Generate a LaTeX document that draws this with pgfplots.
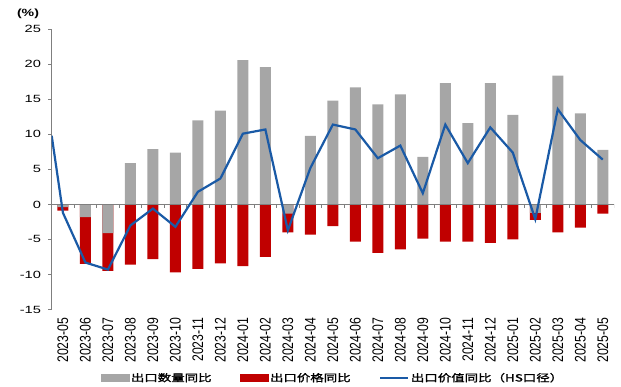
\documentclass[border=0pt]{standalone}
\usepackage{fontspec}
\setmainfont{Liberation Sans}
\newfontfamily\cjk[FakeBold=1.2]{Noto Sans CJK SC}
\usepackage{pgfplots}
\usepackage{pgfplotstable}
\pgfplotsset{compat=1.18}
\definecolor{qgray}{HTML}{A6A6A6}
\definecolor{pred}{HTML}{C00000}
\definecolor{vblue}{HTML}{1A5AA6}
\definecolor{axgray}{HTML}{7F7F7F}
\newcommand{\lgt}[1]{\scalebox{1.35}[1]{\cjk\fontsize{10}{12}\selectfont #1}}
\newcommand{\xl}[1]{\scalebox{1}[1.25]{#1}}

% x: month index; q: export quantity yoy (grey); p: lower end of red bar (price yoy, stacked under grey when both negative)
\pgfplotstableread{
x q p
0 -0.4 -0.9
1 -1.8 -8.5
2 -4.1 -9.5
3 5.9 -8.6
4 7.9 -7.8
5 7.4 -9.7
6 12.0 -9.2
7 13.4 -8.4
8 20.6 -8.8
9 19.6 -7.5
10 -1.3 -4.0
11 9.8 -4.3
12 14.8 -3.1
13 16.7 -5.3
14 14.3 -6.9
15 15.7 -6.4
16 6.8 -4.9
17 17.3 -5.3
18 11.6 -5.3
19 17.3 -5.5
20 12.8 -5.0
21 -1.2 -2.2
22 18.4 -4.0
23 13.0 -3.3
24 7.8 -1.3
}\bars

\pgfplotstableread{
x v
-0.5 9.8
0 -1.2
1 -8.3
2 -9.3
3 -3.0
4 -0.6
5 -3.2
6 1.8
7 3.7
8 10.1
9 10.7
10 -3.7
11 5.2
12 11.4
13 10.7
14 6.6
15 8.4
16 1.6
17 11.4
18 5.9
19 11.0
20 7.4
21 -2.1
22 13.6
23 9.2
24 6.4
}\valueline

\begin{document}
\begin{tikzpicture}
\useasboundingbox (-51.7bp,-77.5bp) rectangle (569.3bp,309.5bp);
\begin{axis}[
  scale only axis,
  width=562.3bp, height=280.2bp,
  at={(0,0)}, anchor=south west,
  xmin=-0.5, xmax=24.5,
  ymin=-15, ymax=25,
  ytick={-15,-10,...,25},
  xtick={0,...,24},
  xticklabels={\xl{2023-05},\xl{2023-06},\xl{2023-07},\xl{2023-08},\xl{2023-09},\xl{2023-10},\xl{2023-11},\xl{2023-12},\xl{2024-01},\xl{2024-02},\xl{2024-03},\xl{2024-04},\xl{2024-05},\xl{2024-06},\xl{2024-07},\xl{2024-08},\xl{2024-09},\xl{2024-10},\xl{2024-11},\xl{2024-12},\xl{2025-01},\xl{2025-02},\xl{2025-03},\xl{2025-04},\xl{2025-05}},
  axis x line*=bottom,
  axis y line*=left,
  x axis line style={draw=none},
  y axis line style={draw=axgray, line width=0.9bp},
  major x tick style={draw=none},
  ytick style={draw=axgray, line width=0.9bp},
  ytick align=outside,
  major tick length=3.5bp,
  /pgf/number format/assume math mode=true,
  yticklabel={\scalebox{1.4}[1]{\pgfmathprintnumber{\tick}}},
  yticklabel style={font=\fontsize{10.5}{12}\selectfont, inner sep=1bp, xshift=-6bp},
  xticklabel style={font=\fontsize{12.3}{13}\selectfont, rotate=90, anchor=east, inner sep=1bp},
  xticklabel shift=7bp,
  legend columns=3,
  legend style={draw=none, fill=none, at={(0.5,-0.2445)}, anchor=center,
    /tikz/every even column/.append style={column sep=27bp},
    nodes={inner sep=1.5bp}},
]
\addplot[ybar, bar width=11bp, bar shift=0pt, fill=pred, draw=none, forget plot] table[x=x, y=p] {\bars};
\addplot[ybar, bar width=11bp, bar shift=0pt, fill=qgray, draw=none, forget plot] table[x=x, y=q] {\bars};
\draw[axgray, line width=0.9bp] (axis cs:-0.5,0) -- (axis cs:24.5,0);
\pgfplotsinvokeforeach{-0.5,0.5,...,24.5}{\draw[axgray, line width=0.8bp] (axis cs:#1,0) -- ++(0bp,-3.5bp);}
\addplot[vblue, line width=2.2bp, no marks, sharp plot, forget plot] table[x=x, y=v] {\valueline};

\addlegendimage{legend image code/.code={\fill[qgray] (0bp,-3.5bp) rectangle (28bp,3.5bp);}}
\addlegendentry{\lgt{出口数量同比}}
\addlegendimage{legend image code/.code={\fill[pred] (0bp,-3.5bp) rectangle (28bp,3.5bp);}}
\addlegendentry{\lgt{出口价格同比}}
\addlegendimage{legend image code/.code={\draw[vblue, line width=2.2bp] (0bp,0bp) -- (28bp,0bp);}}
\addlegendentry{\lgt{出口价值同比（HS口径）}}
\end{axis}
\node[font=\bfseries\fontsize{10.5}{12}\selectfont] at (-23.7bp,295.5bp) {\scalebox{1.35}[1]{(\%)}};
\end{tikzpicture}
\end{document}
